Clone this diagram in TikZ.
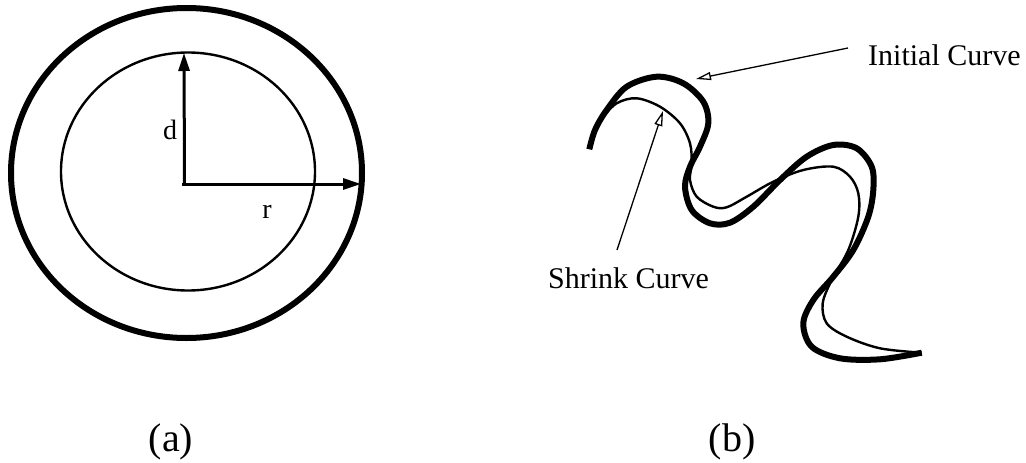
\documentclass[tikz,border=0pt]{standalone}
\usepackage{fontspec}
\setmainfont{Liberation Serif}
\usetikzlibrary{arrows.meta}
\tikzset{
  thickline/.style={line width=6pt, line cap=butt, line join=round},
  thinline/.style={line width=2.4pt, line join=round},
  radarrow/.style={line width=3pt, -{Triangle[length=18pt,width=11pt]}},
  callout/.style={line width=1.3pt, -{Triangle[open,length=15pt,width=8pt,line width=1.3pt]}},
  lbl/.style={inner sep=0pt, font=\fontsize{30}{36}\selectfont},
  smalllbl/.style={inner sep=0pt, font=\fontsize{28}{34}\selectfont},
  caplbl/.style={inner sep=0pt, anchor=base, font=\fontsize{40}{46}\selectfont}
}
\begin{document}
\begin{tikzpicture}[x=1pt,y=-1pt]
\useasboundingbox (0,0) rectangle (1026,463);
% (a)
\draw[thickline] (186.5,173) ellipse [x radius=175.5, y radius=165];
\draw[thinline] (188,171.5) ellipse [x radius=127, y radius=119];
\coordinate (o) at (184.5,184);
\coordinate (dtip) at (184,53);
\coordinate (rtip) at (361,184);
\draw[radarrow] (o) -- (dtip);
\draw[radarrow] ([xshift=-2.5pt]o) -- (rtip);
\node[smalllbl] (d) at (170,130) {d};
\node[smalllbl] (r) at (267,212) {r};
\node[caplbl] (capa) at (171,451) {(a)};
% (b)
\draw[thickline] plot[smooth, tension=0.55] coordinates {
(589.3,149.3) (595,130) (606.7,110) (626.7,86.7) (656.7,76.7) (683.3,83.3)
(703.3,101.7) (708.3,123.3) (700,146.7) (690,166.7) (685,186.7) (691.7,210)
(710,223.3) (730,222.7) (753.3,206.7) (780,180) (806.7,156.7) (833.3,145)
(856.7,148.3) (871.7,166.7) (873.3,190) (868.3,216.7) (853.3,250) (833.3,276.7)
(813.3,300) (803.3,323.3) (811.7,346.7) (840,358.3) (880,359.3) (921.7,352.7)};
\draw[thinline] plot[smooth, tension=0.55] coordinates {
(601,119) (616.7,103.3) (636.7,98.3) (660,106.7) (680,123.3) (690,143.3)
(691.7,163.3) (690,180) (696.7,196.7) (713.3,206.7) (726.7,207.3) (746.7,196.7)
(773.3,181.7) (803.3,170) (833.3,166.7) (850,176.7) (858.3,193.3) (858.3,216.7)
(848.3,250) (831.7,280) (822.7,303.3) (826.7,323.3) (846.7,336.7) (880,348.3)
(921.7,352.7)};
\node[lbl, anchor=base west] (init) at (868,65) {Initial Curve};
\node[lbl, anchor=base west] (shrink) at (548,288) {Shrink Curve};
\coordinate (initfrom) at (848,48);
\coordinate (inittip) at (696,79);
\coordinate (shrinkfrom) at (617,250);
\coordinate (shrinktip) at (663,111);
\draw[callout] (initfrom) -- (inittip);
\draw[callout] (shrinkfrom) -- (shrinktip);
\node[caplbl] (capb) at (732,451) {(b)};
\end{tikzpicture}
\end{document}
